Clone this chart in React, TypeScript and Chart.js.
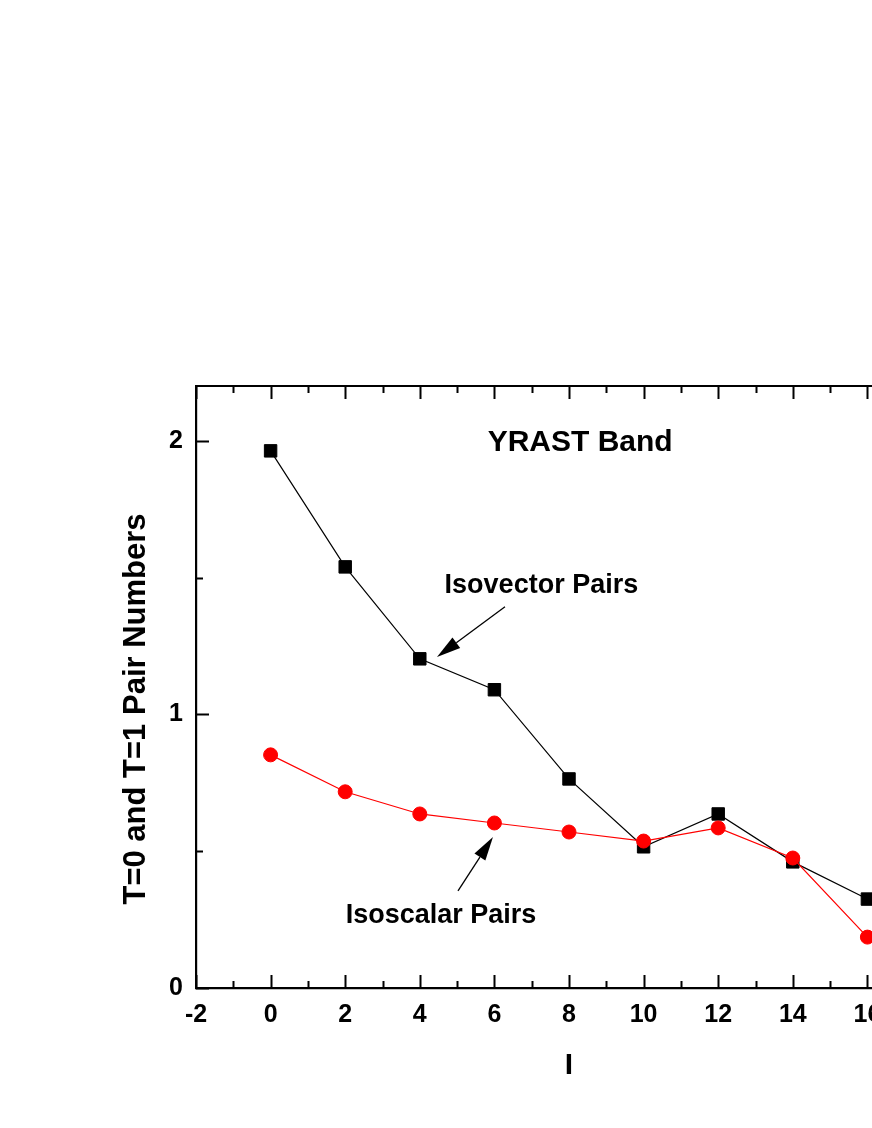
import React, { useEffect, useRef } from 'react';
import { Chart, registerables } from 'chart.js';

Chart.register(...registerables);

// ---- data ----
const spinValues = [0, 2, 4, 6, 8, 10, 12, 14, 16];
const isovectorPairs = [1.963, 1.539, 1.203, 1.09, 0.764, 0.516, 0.636, 0.461, 0.325];
const isoscalarPairs = [0.852, 0.717, 0.636, 0.603, 0.57, 0.537, 0.585, 0.475, 0.186];
const xRange = [-2, 18];
const yRange = [0, 2.2];
const xTickStep = 2;
const yTickStep = 1;

const bandTitle = 'YRAST Band';
const isovectorLabel = 'Isovector Pairs';
const isoscalarLabel = 'Isoscalar Pairs';
const xAxisTitle = 'I';
const yAxisTitle = 'T=0 and T=1 Pair Numbers';

const FONT = '"Liberation Sans", Arial, Helvetica, sans-serif';

// annotation anchors in data coordinates
const annotations = {
  band: { x: 8.3, y: 1.993 },
  isovector: { x: 7.26, y: 1.47 },
  isoscalar: { x: 4.57, y: 0.263 },
  isovectorArrow: { from: { x: 6.284, y: 1.393 }, to: { x: 4.461, y: 1.21 } },
  isoscalarArrow: { from: { x: 5.024, y: 0.355 }, to: { x: 5.962, y: 0.552 } },
};

const CANVAS_W = 1000;
const CANVAS_H = 1128;

function drawArrow(ctx: CanvasRenderingContext2D, x1: number, y1: number, x2: number, y2: number) {
  const ang = Math.atan2(y2 - y1, x2 - x1);
  const headLen = 24;
  const headHalf = 6.5;
  const bx = x2 - headLen * Math.cos(ang);
  const by = y2 - headLen * Math.sin(ang);
  ctx.beginPath();
  ctx.moveTo(x1, y1);
  ctx.lineTo(bx, by);
  ctx.lineWidth = 1.3;
  ctx.strokeStyle = '#000';
  ctx.stroke();
  ctx.beginPath();
  ctx.moveTo(x2, y2);
  ctx.lineTo(bx + headHalf * Math.sin(ang), by - headHalf * Math.cos(ang));
  ctx.lineTo(bx - headHalf * Math.sin(ang), by + headHalf * Math.cos(ang));
  ctx.closePath();
  ctx.fillStyle = '#000';
  ctx.fill();
}

const framePlugin = {
  id: 'framePlugin',
  afterDraw(chart: any) {
    const ctx: CanvasRenderingContext2D = chart.ctx;
    const ca = chart.chartArea;
    const xs = chart.scales.x;
    const ys = chart.scales.y;
    ctx.save();
    ctx.strokeStyle = '#000';
    ctx.lineWidth = 2.2;
    ctx.beginPath();
    ctx.moveTo(ca.left, ca.top);
    ctx.lineTo(ca.right, ca.top);
    ctx.lineTo(ca.right, ca.bottom);
    ctx.stroke();

    // inward ticks
    ctx.lineWidth = 2;
    for (let v = xs.min; v <= xs.max + 1e-9; v += xTickStep / 2) {
      const px = Math.round(xs.getPixelForValue(v)) + 0.5;
      const major = Math.abs(v % xTickStep) < 1e-9;
      const len = major ? 13 : 7;
      ctx.beginPath();
      ctx.moveTo(px, ca.bottom);
      ctx.lineTo(px, ca.bottom - len);
      ctx.moveTo(px, ca.top);
      ctx.lineTo(px, ca.top + len);
      ctx.stroke();
    }
    for (let v = ys.min; v <= ys.max + 1e-9; v += yTickStep / 2) {
      const py = Math.round(ys.getPixelForValue(v)) + 0.5;
      const major = Math.abs(v % yTickStep) < 1e-9;
      const len = major ? 13 : 7;
      ctx.beginPath();
      ctx.moveTo(ca.left, py);
      ctx.lineTo(ca.left + len, py);
      ctx.moveTo(ca.right, py);
      ctx.lineTo(ca.right - len, py);
      ctx.stroke();
    }

    // texts
    ctx.fillStyle = '#000';
    ctx.textAlign = 'center';
    ctx.textBaseline = 'middle';
    ctx.font = `bold 30px ${FONT}`;
    ctx.fillText(bandTitle, xs.getPixelForValue(annotations.band.x), ys.getPixelForValue(annotations.band.y));
    ctx.font = `bold 27px ${FONT}`;
    ctx.fillText(isovectorLabel, xs.getPixelForValue(annotations.isovector.x), ys.getPixelForValue(annotations.isovector.y));
    ctx.fillText(isoscalarLabel, xs.getPixelForValue(annotations.isoscalar.x), ys.getPixelForValue(annotations.isoscalar.y));

    const a1 = annotations.isovectorArrow;
    drawArrow(ctx, xs.getPixelForValue(a1.from.x), ys.getPixelForValue(a1.from.y), xs.getPixelForValue(a1.to.x), ys.getPixelForValue(a1.to.y));
    const a2 = annotations.isoscalarArrow;
    drawArrow(ctx, xs.getPixelForValue(a2.from.x), ys.getPixelForValue(a2.from.y), xs.getPixelForValue(a2.to.x), ys.getPixelForValue(a2.to.y));

    // y-axis title
    ctx.save();
    ctx.translate(136, 709);
    ctx.rotate(-Math.PI / 2);
    ctx.font = `bold 31px ${FONT}`;
    ctx.textAlign = 'center';
    ctx.textBaseline = 'middle';
    ctx.fillText(yAxisTitle, 0, 0);
    ctx.restore();

    ctx.restore();
  },
};

export default function App() {
  const canvasRef = useRef<HTMLCanvasElement | null>(null);

  useEffect(() => {
    const canvas = canvasRef.current;
    if (!canvas) return;
    const chart = new Chart(canvas, {
      type: 'line',
      data: {
        datasets: [
          {
            label: isoscalarLabel,
            data: spinValues.map((x, i) => ({ x, y: isoscalarPairs[i] })),
            borderColor: '#ff0000',
            backgroundColor: '#ff0000',
            borderWidth: 1.2,
            pointStyle: 'circle',
            pointRadius: 7,
            pointBorderWidth: 1,
            pointBackgroundColor: '#ff0000',
            pointBorderColor: '#ff0000',
            tension: 0,
          },
          {
            label: isovectorLabel,
            data: spinValues.map((x, i) => ({ x, y: isovectorPairs[i] })),
            borderColor: '#000000',
            backgroundColor: '#000000',
            borderWidth: 1.2,
            pointStyle: 'rect',
            pointRadius: 8.8,
            pointBorderWidth: 1,
            pointBackgroundColor: '#000000',
            pointBorderColor: '#000000',
            tension: 0,
          },
        ],
      },
      options: {
        responsive: false,
        animation: false,
        devicePixelRatio: 1,
        layout: { padding: { left: 0, top: 386, right: CANVAS_W - 942, bottom: 0 } },
        plugins: {
          legend: { display: false },
          tooltip: { enabled: false },
          title: { display: false },
        },
        scales: {
          x: {
            type: 'linear',
            position: 'bottom',
            min: xRange[0],
            max: xRange[1],
            afterFit: (s: any) => {
              s.height = 140;
            },
            ticks: {
              stepSize: xTickStep,
              includeBounds: false,
              color: '#000',
              padding: 12,
              maxRotation: 0,
              autoSkip: false,
              font: { family: FONT, size: 25, weight: 'bold' },
            },
            grid: { display: false, drawTicks: false },
            border: { display: true, color: '#000', width: 2.2 },
            title: {
              display: true,
              text: xAxisTitle,
              color: '#000',
              font: { family: FONT, size: 30, weight: 'bold' },
              padding: { top: 0, bottom: 44 },
            },
          },
          y: {
            type: 'linear',
            position: 'left',
            min: yRange[0],
            max: yRange[1],
            afterFit: (s: any) => {
              s.width = 196;
            },
            ticks: {
              stepSize: yTickStep,
              includeBounds: false,
              color: '#000',
              padding: 13,
              font: { family: FONT, size: 25, weight: 'bold' },
            },
            grid: { display: false, drawTicks: false },
            border: { display: true, color: '#000', width: 2.2 },
            title: { display: false },
          },
        },
      },
      plugins: [framePlugin],
    } as any);
    return () => chart.destroy();
  }, []);

  return (
    <div
      style={{
        position: 'fixed',
        left: 0,
        top: 0,
        width: 872,
        height: 1128,
        overflow: 'hidden',
        background: '#fff',
      }}
    >
      <canvas
        ref={canvasRef}
        width={CANVAS_W}
        height={CANVAS_H}
        style={{ display: 'block', width: CANVAS_W, height: CANVAS_H }}
      />
    </div>
  );
}
